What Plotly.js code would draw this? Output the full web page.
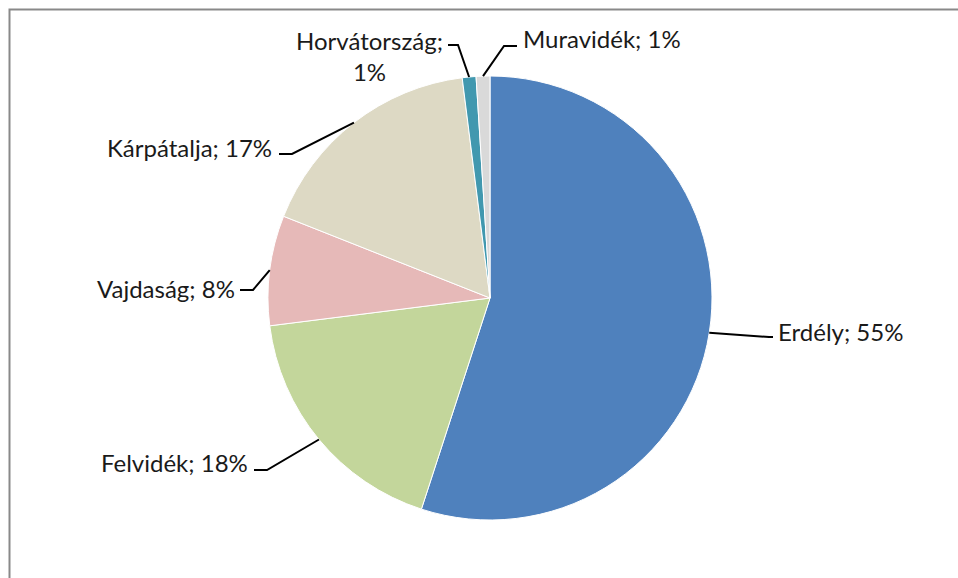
<!DOCTYPE html>
<html>
<head>
<meta charset="utf-8">
<script src="https://cdn.plot.ly/plotly-3.0.1.min.js"></script>
<style>
  html, body { margin: 0; padding: 0; background: #fff; }
  #chart { width: 958px; height: 578px; }
</style>
</head>
<body>
<div id="chart"></div>
<script>
// Régiók és arányaik (%), az óramutató járásával megegyezően, fentről indulva
const regions = ['Erdély', 'Felvidék', 'Vajdaság', 'Kárpátalja', 'Horvátország', 'Muravidék'];
const shares = [55, 18, 8, 17, 1, 1];
const sliceColors = ['#4F81BD', '#C3D69B', '#E6B9B8', '#DDD9C4', '#4198AF', '#D9D9D9'];

// Size of the page and the pie in pixels
const W = 958, H = 578;
const CX = 490, CY = 298, R = 222;

// Label placement (elbow of leader line, end of horizontal stub, text anchor)
const labelLayout = [
    { elbow: [769, 337], stub: 773, text: [776, 331], anchor: 'left' },
    { elbow: [267, 470], stub: 254, text: [250, 462], anchor: 'right' },
    { elbow: [253, 290], stub: 240, text: [237, 288], anchor: 'right' },
    { elbow: [292, 154], stub: 279, text: [274, 148], anchor: 'right' },
    { elbow: [458, 45],  stub: 448, text: [369, 56],  anchor: 'center', wrap: true },
    { elbow: [504, 46],  stub: 517, text: [521, 38],  anchor: 'left' }
];

const px = x => x / W;
const py = y => 1 - y / H;

function buildChart() {
    const total = shares.reduce((a, b) => a + b, 0);

    const trace = {
        type: 'pie',
        labels: regions,
        values: shares,
        sort: false,
        direction: 'clockwise',
        rotation: 0,
        textinfo: 'none',
        hoverinfo: 'label+percent',
        marker: { colors: sliceColors, line: { color: '#ffffff', width: 1 } },
        domain: { x: [px(CX - R), px(CX + R)], y: [py(CY + R), py(CY - R)] },
        showlegend: false
    };

    const shapes = [];
    const annotations = [];

    // chart frame (only top and left edges are visible)
    shapes.push({
        type: 'path', xref: 'paper', yref: 'paper',
        path: `M ${px(9.5)},${py(H)} L ${px(9.5)},${py(9.5)} L ${px(W)},${py(9.5)}`,
        line: { color: '#898989', width: 2 }
    });

    let cum = 0;
    shares.forEach((v, i) => {
        const mid = (cum + v / 2) / total * 2 * Math.PI;
        cum += v;
        const sx = CX + R * Math.sin(mid);
        const sy = CY - R * Math.cos(mid);
        const lay = labelLayout[i];
        const [ex, ey] = lay.elbow;
        shapes.push({
            type: 'path', xref: 'paper', yref: 'paper',
            path: `M ${px(sx)},${py(sy)} L ${px(ex)},${py(ey)} L ${px(lay.stub)},${py(ey)}`,
            line: { color: '#000000', width: 2 }
        });
        const pct = Math.round(v / total * 100) + '%';
        const txt = lay.wrap ? `${regions[i]};<br>${pct}` : `${regions[i]}; ${pct}`;
        annotations.push({
            xref: 'paper', yref: 'paper',
            x: px(lay.text[0]), y: py(lay.text[1]),
            xanchor: lay.anchor, yanchor: 'middle',
            align: 'center',
            text: txt,
            showarrow: false,
            font: { family: 'Lato, sans-serif', size: 24, color: '#1a1a1a' }
        });
    });

    const layout = {
        width: W,
        height: H,
        margin: { l: 0, r: 0, t: 0, b: 0 },
        paper_bgcolor: '#ffffff',
        plot_bgcolor: '#ffffff',
        shapes: shapes,
        annotations: annotations
    };

    Plotly.newPlot('chart', [trace], layout, { displayModeBar: false, staticPlot: true });
}

buildChart();
</script>
</body>
</html>
